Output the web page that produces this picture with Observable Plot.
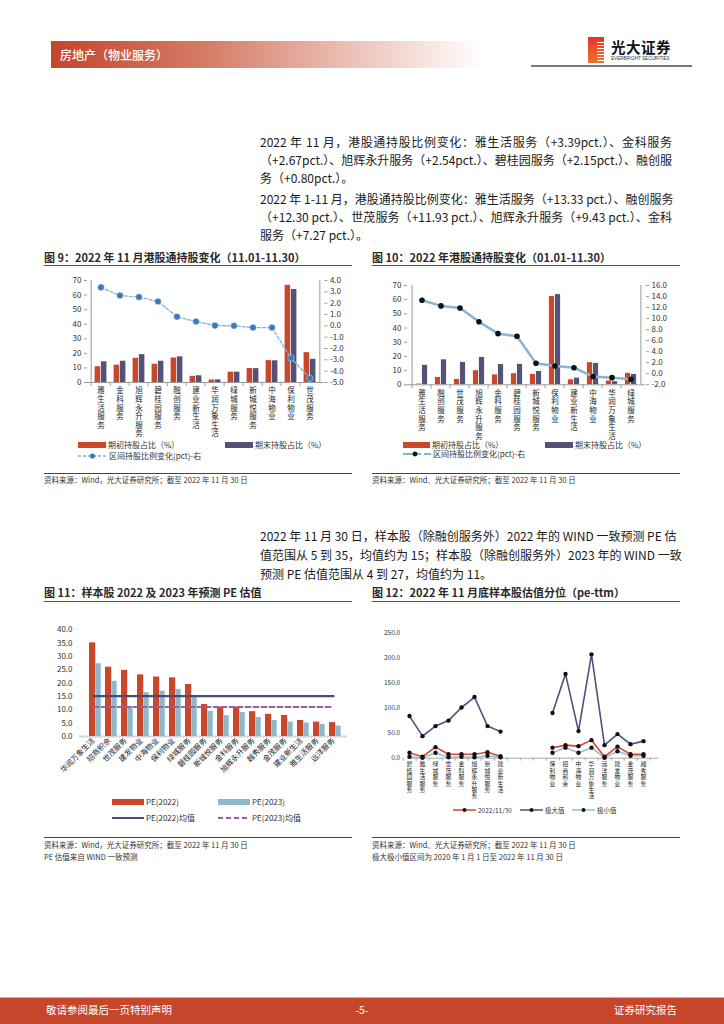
<!DOCTYPE html>
<html><head><meta charset="utf-8">
<script src="https://cdn.jsdelivr.net/npm/d3@7"></script>
<script src="https://cdn.jsdelivr.net/npm/@observablehq/plot@0.6"></script>
<style>
body{margin:0;background:#fff;}
#page{position:relative;width:724px;height:1024px;overflow:hidden;font-family:"Noto Sans CJK SC","Noto Sans",sans-serif;color:#222;background:#fff;}
.para{position:absolute;left:260px;width:412px;font-size:12px;line-height:16px;white-space:nowrap;text-align:justify;text-align-last:justify;font-family:"Liberation Sans Narrow","Noto Sans CJK SC",sans-serif;color:#1a1a1a;}
.para.last{text-align-last:left;}
.ctitle{position:absolute;font-size:11px;font-weight:700;line-height:14px;white-space:nowrap;color:#2a2a2a;}
.hline{position:absolute;height:0;border-top:1.5px solid #555;}
.sline{position:absolute;height:0;border-top:1px solid #444;}
.src{position:absolute;font-size:7.5px;line-height:10px;white-space:nowrap;color:#333;}
.leg{position:absolute;display:flex;align-items:center;font-size:8px;line-height:10px;white-space:nowrap;color:#333;}
.leg svg{margin-right:2px;}
.chart{position:absolute;}
.vlab g[aria-label="x-axis tick label"] text{writing-mode:vertical-rl;letter-spacing:1.1px;}
.vlab12 g[aria-label="x-axis tick label"] text{writing-mode:vertical-rl;letter-spacing:0.6px;}
</style></head>
<body><div id="page">
<!-- header -->
<div style="position:absolute;left:51px;top:41px;width:432px;height:27px;background:linear-gradient(90deg,#c5452b 0%,#d47a65 35%,#ecc2b8 70%,#ffffff 100%);"></div>
<div style="position:absolute;left:60px;top:41px;height:27px;line-height:27px;font-size:12px;color:#fff;font-weight:500;">房地产（物业服务）</div>
<div style="position:absolute;left:588px;top:37px;width:16px;height:26px;background:linear-gradient(180deg,#e8322b,#f0722c);"></div>
<div style="position:absolute;left:597px;top:40px;width:7px;height:22px;background:repeating-linear-gradient(180deg,transparent 0 2px,#fff 2px 3px);"></div>
<div style="position:absolute;left:611px;top:38px;font-size:14.5px;font-weight:700;line-height:18px;color:#111;letter-spacing:0.5px;">光大证券</div>
<div style="position:absolute;left:611px;top:56px;font-size:4.6px;line-height:6px;color:#333;font-family:'Liberation Sans',sans-serif;">EVERBRIGHT SECURITIES</div>
<div style="position:absolute;left:531px;top:65px;width:161px;height:2px;background:#7a7a7a;"></div>

<!-- paragraphs -->
<div class="para" style="top:134px;">2022 年 11 月，港股通持股比例变化：雅生活服务（+3.39pct.）、金科服务</div>
<div class="para" style="top:152px;">（+2.67pct.）、旭辉永升服务（+2.54pct.）、碧桂园服务（+2.15pct.）、融创服</div>
<div class="para last" style="top:170px;">务（+0.80pct.）。</div>
<div class="para" style="top:191px;">2022 年 1-11 月，港股通持股比例变化：雅生活服务（+13.33 pct.）、融创服务</div>
<div class="para" style="top:209px;">（+12.30 pct.）、世茂服务（+11.93 pct.）、旭辉永升服务（+9.43 pct.）、金科</div>
<div class="para last" style="top:227px;">服务（+7.27 pct.）。</div>

<div class="para" style="top:528px;">2022 年 11 月 30 日，样本股（除融创服务外）2022 年的 WIND 一致预测 PE 估</div>
<div class="para" style="top:547px;">值范围从 5 到 35，均值约为 15；样本股（除融创服务外）2023 年的 WIND 一致</div>
<div class="para last" style="top:566px;">预测 PE 估值范围从 4 到 27，均值约为 11。</div>

<!-- chart 9 -->
<div class="ctitle" style="left:44px;top:250px;">图 9：2022 年 11 月港股通持股变化（11.01-11.30）</div>
<div class="hline" style="left:44px;top:265px;width:308px;"></div>
<div class="chart" id="c9" style="left:40px;top:270px;"></div>
<div class="leg" style="left:78px;top:440px;"><svg width="28" height="8"><rect x="0" y="1" width="28" height="6" fill="#c9472b"/></svg>期初持股占比（%）</div>
<div class="leg" style="left:225px;top:440px;"><svg width="28" height="8"><rect x="0" y="1" width="28" height="6" fill="#535279"/></svg>期末持股占比（%）</div>
<div class="leg" style="left:78px;top:451px;"><svg width="29" height="8"><line x1="0" y1="4" x2="29" y2="4" stroke="#7fb2d3" stroke-width="1.3" stroke-dasharray="3,2"/><circle cx="14.5" cy="4" r="2.6" fill="#3d7ab8"/></svg>区间持股比例变化(pct)-右</div>
<div class="sline" style="left:44px;top:473px;width:308px;"></div>
<div class="src" style="left:44px;top:475px;">资料来源：Wind，光大证券研究所；截至 2022 年 11 月 30 日</div>

<!-- chart 10 -->
<div class="ctitle" style="left:372px;top:250px;">图 10：2022 年港股通持股变化（01.01-11.30）</div>
<div class="hline" style="left:372px;top:265px;width:308px;"></div>
<div class="chart" id="c10" style="left:365px;top:275px;"></div>
<div class="leg" style="left:403px;top:440px;"><svg width="27" height="8"><rect x="0" y="1" width="27" height="6" fill="#c9472b"/></svg>期初持股占比（%）</div>
<div class="leg" style="left:545px;top:440px;"><svg width="28" height="8"><rect x="0" y="1" width="28" height="6" fill="#535279"/></svg>期末持股占比（%）</div>
<div class="leg" style="left:403px;top:449px;"><svg width="28" height="8"><line x1="0" y1="4" x2="18" y2="4" stroke="#86b5d0" stroke-width="2"/><line x1="21" y1="4" x2="28" y2="4" stroke="#86b5d0" stroke-width="2"/><circle cx="12" cy="4" r="2.4" fill="#111"/></svg>区间持股比例变化(pct)-右</div>
<div class="sline" style="left:372px;top:473px;width:308px;"></div>
<div class="src" style="left:372px;top:475px;">资料来源：Wind、光大证券研究所；截至 2022 年 11 月 30 日</div>

<!-- chart 11 -->
<div class="ctitle" style="left:44px;top:585px;">图 11：样本股 2022 及 2023 年预测 PE 估值</div>
<div class="hline" style="left:44px;top:601px;width:308px;"></div>
<div class="chart" id="c11" style="left:40px;top:620px;"></div>
<div class="leg" style="left:112px;top:797px;"><svg width="32" height="8"><rect x="0" y="1" width="32" height="6" fill="#c9472b"/></svg>PE(2022)</div>
<div class="leg" style="left:218px;top:797px;"><svg width="32" height="8"><rect x="0" y="1" width="32" height="6" fill="#8db8cc"/></svg>PE(2023)</div>
<div class="leg" style="left:112px;top:813px;"><svg width="32" height="8"><line x1="0" y1="4" x2="32" y2="4" stroke="#4b4a7a" stroke-width="2"/></svg>PE(2022)均值</div>
<div class="leg" style="left:218px;top:813px;"><svg width="32" height="8"><line x1="0" y1="4" x2="32" y2="4" stroke="#9a62a0" stroke-width="2" stroke-dasharray="5,3"/></svg>PE(2023)均值</div>
<div class="sline" style="left:44px;top:837px;width:308px;"></div>
<div class="src" style="left:44px;top:840px;">资料来源：Wind，光大证券研究所；截至 2022 年 11 月 30 日</div>
<div class="src" style="left:44px;top:852px;">PE 估值来自 WIND 一致预测</div>

<!-- chart 12 -->
<div class="ctitle" style="left:372px;top:585px;">图 12：2022 年 11 月底样本股估值分位（pe-ttm）</div>
<div class="hline" style="left:372px;top:601px;width:308px;"></div>
<div class="chart" id="c12" style="left:365px;top:625px;"></div>
<div class="leg" style="left:453px;top:805px;font-size:6.5px;"><svg width="23" height="8"><line x1="0" y1="4" x2="23" y2="4" stroke="#d9472b" stroke-width="1.5"/><circle cx="11.5" cy="4" r="2" fill="#111"/></svg>2022/11/30</div>
<div class="leg" style="left:520px;top:805px;font-size:6.5px;"><svg width="23" height="8"><line x1="0" y1="4" x2="23" y2="4" stroke="#514f7e" stroke-width="1.5"/><circle cx="11.5" cy="4" r="2" fill="#111"/></svg>极大值</div>
<div class="leg" style="left:572px;top:805px;font-size:6.5px;"><svg width="23" height="8"><line x1="0" y1="4" x2="23" y2="4" stroke="#8fc3da" stroke-width="1.5"/><circle cx="11.5" cy="4" r="2" fill="#111"/></svg>极小值</div>
<div class="sline" style="left:372px;top:837px;width:308px;"></div>
<div class="src" style="left:372px;top:840px;">资料来源：Wind、光大证券研究所；截至 2022 年 11 月 30 日</div>
<div class="src" style="left:372px;top:852px;">极大极小值区间为 2020 年 1 月 1 日至 2022 年 11 月 30 日</div>

<!-- footer -->
<div style="position:absolute;left:0;top:997px;width:724px;height:26px;background:#c5462a;border-top:1px solid #e6a597;"></div>
<div style="position:absolute;left:46px;top:1003px;font-size:10.5px;line-height:14px;color:#fff;">敬请参阅最后一页特别声明</div>
<div style="position:absolute;left:352px;top:1003px;width:20px;text-align:center;font-size:10.5px;line-height:14px;color:#fff;">-5-</div>
<div style="position:absolute;right:47px;top:1003px;font-size:10.5px;line-height:14px;color:#fff;">证券研究报告</div>
</div>
<script>
// ---------- data ----------
// Chart 9: 2022-11 holdings change
const c9Cats = ["雅生活服务","金科服务","旭辉永升服务","碧桂园服务","融创服务","建业新生活","华润万象生活","绿城服务","新城悦服务","中海物业","保利物业","世茂服务"];
const c9Start = [10.8, 11.9, 16.6, 12.5, 16.8, 4.2, 1.7, 7.1, 9.6, 15.0, 66.7, 20.5];
const c9End   = [14.2, 14.6, 19.1, 14.6, 17.6, 4.6, 1.8, 7.1, 9.5, 14.9, 63.8, 15.9];
const c9Chg   = [3.39, 2.67, 2.54, 2.15, 0.80, 0.38, 0.02, 0.0, -0.15, -0.15, -2.85, -4.63];
// Chart 10: 2022 YTD holdings change
const c10Cats = ["雅生活服务","融创服务","世茂服务","旭辉永升服务","金科服务","碧桂园服务","新城悦服务","保利物业","建业新生活","中海物业","华润万象生活","绿城服务"];
const c10Start = [0.5, 5.2, 3.8, 9.9, 7.0, 7.8, 7.3, 62.2, 3.5, 15.6, 2.7, 8.1];
const c10End   = [13.7, 17.6, 15.8, 19.3, 14.3, 14.4, 9.4, 63.6, 4.7, 15.1, 2.2, 7.3];
const c10Chg   = [13.33, 12.30, 11.93, 9.43, 7.27, 6.8, 1.9, 1.4, 1.1, -0.5, -0.7, -1.0];
// Chart 11: PE 2022/2023
const c11Cats = ["华润万象生活","招商积余","世茂服务","建发物业","中海物业","保利物业","绿城服务","碧桂园服务","新城悦服务","金科服务","旭辉永升服务","越秀服务","金茂服务","建业新生活","雅生活服务","远洋服务"];
const c11PE22 = [35.1, 26.0, 24.8, 23.1, 22.3, 22.0, 19.5, 12.0, 11.0, 11.0, 9.3, 8.3, 7.9, 6.0, 5.4, 5.2];
const c11PE23 = [27.3, 20.7, 11.2, 16.4, 17.0, 17.6, 15.3, 9.4, 7.8, 9.0, 7.1, 6.0, 5.4, 5.1, 4.5, 3.9];
const c11Mean22 = 15.1;
const c11Mean23 = 11.1;
// Chart 12: PE-ttm percentile
const c12Left  = ["碧桂园服务","雅生活服务","绿城服务","世茂服务","金科服务","旭辉永升服务","新城悦服务","建业新生活"];
const c12Right = ["保利物业","招商积余","中海物业","华润万象生活","远洋服务","建发物业","金茂服务","越秀服务"];
const c12Gaps  = ["gap1","gap2","gap3","gap4"];
const c12CurL = [11, 3, 22, 8, 8, 8, 12, 4];
const c12MaxL = [84, 44, 64, 75, 101, 122, 64, 53];
const c12MinL = [3, 1, 11, 2, 3, 2, 5, 2];
const c12CurR = [21, 26, 24, 36, 3, 23, 8, 8];
const c12MaxR = [90, 168, 54, 207, 26, 48, 28, 34];
const c12MinR = [11, 21, 11, 21, 1, 14, 5, 5];

// ---------- helpers ----------
const FONT = '"Noto Sans CJK SC","Noto Sans",sans-serif';
const RED = "#c9472b", NAVY = "#535279";
const r1 = v => (Math.round(v * 10) / 10).toFixed(1);

function dualChart(o) {
  const span = o.rDom[1] - o.rDom[0];
  const toL = v => (v - o.rDom[0]) / span * 70;
  const fromL = v => v / 70 * span + o.rDom[0];
  const rows = o.cats.map((c, i) => ({c, s: o.start[i], e: o.end[i], g: toL(o.chg[i])}));
  const bw = (o.width - o.ml - o.mr) / o.cats.length;
  const last = o.cats[o.cats.length - 1];
  return Plot.plot({
    className: "vlab",
    width: o.width, height: o.height,
    marginTop: o.mt, marginBottom: o.mb, marginLeft: o.ml, marginRight: o.mr,
    style: {fontFamily: FONT, fontSize: "8px", color: "#333", background: "transparent", overflow: "visible"},
    x: {domain: o.cats, padding: 0, label: null},
    y: {domain: [0, 70], label: null},
    marks: [
      Plot.barY(rows, {x: "c", y: "s", fill: RED, insetLeft: o.inset, insetRight: bw / 2}),
      Plot.barY(rows, {x: "c", y: "e", fill: NAVY, insetLeft: bw / 2, insetRight: o.inset}),
      Plot.ruleY([0], {stroke: "#9a9a9a"}),
      Plot.ruleX([o.cats[0]], {dx: -bw / 2, stroke: "#9a9a9a"}),
      Plot.ruleX([last], {dx: bw / 2, stroke: "#9a9a9a"}),
      Plot.axisY({anchor: "left", ticks: d3.range(0, 71, 10), tickSize: 3, tickPadding: 3, fontSize: 8, stroke: "#9a9a9a", fill: "#333", label: null}),
      Plot.axisY({anchor: "right", ticks: d3.range(o.rDom[0], o.rDom[1] + 1e-9, o.rStep).map(toL), tickFormat: d => r1(fromL(d)), tickSize: 3, tickPadding: 3, fontSize: 8, stroke: "#9a9a9a", fill: "#333", label: null}),
      Plot.axisX({tickSize: 4, tickFormat: () => "", dx: -bw / 2, stroke: "#9a9a9a", label: null}),
      Plot.axisX({tickSize: 0, tickPadding: -1, textAnchor: "start", fontSize: 7.5, fill: "#222", label: null}),
      ...o.lineMarks(rows)
    ]
  });
}

// ---------- chart 9 ----------
document.getElementById("c9").appendChild(dualChart({
  cats: c9Cats, start: c9Start, end: c9End, chg: c9Chg,
  rDom: [-5, 4], rStep: 1,
  width: 310, height: 170, mt: 10, mb: 58, ml: 47, mr: 26.6, inset: 3.6,
  lineMarks: rows => [
    Plot.line(rows, {x: "c", y: "g", stroke: "#7fb2d3", strokeWidth: 1.3, strokeDasharray: "3,2"}),
    Plot.dot(rows, {x: "c", y: "g", r: 3.3, fill: "#3d7ab8", stroke: "#ffffff", strokeWidth: 0.4})
  ]
}));

// ---------- chart 10 ----------
document.getElementById("c10").appendChild(dualChart({
  cats: c10Cats, start: c10Start, end: c10End, chg: c10Chg,
  rDom: [-2, 16], rStep: 2,
  width: 310, height: 170, mt: 10, mb: 60.7, ml: 42, mr: 30, inset: 3.9,
  lineMarks: rows => [
    Plot.line(rows, {x: "c", y: "g", stroke: "#86b5d0", strokeWidth: 2.5}),
    Plot.dot(rows, {x: "c", y: "g", r: 2.8, fill: "#111"})
  ]
}));

// ---------- chart 11 ----------
{
  const rows = c11Cats.map((c, i) => ({c, a: c11PE22[i], b: c11PE23[i]}));
  const bw = (315 - 39 - 8) / c11Cats.length;
  document.getElementById("c11").appendChild(Plot.plot({
    width: 315, height: 170, marginTop: 9.3, marginBottom: 54, marginLeft: 39, marginRight: 8,
    style: {fontFamily: FONT, fontSize: "8px", color: "#333", background: "transparent", overflow: "visible"},
    x: {domain: c11Cats, padding: 0, label: null},
    y: {domain: [0, 40], label: null},
    marks: [
      Plot.ruleY([0], {stroke: "#d5d5d5", strokeWidth: 2}),
      Plot.barY(rows, {x: "c", y: "a", fill: RED, insetLeft: 4, insetRight: bw - 11}),
      Plot.barY(rows, {x: "c", y: "b", fill: "#8db8cc", insetLeft: 10.5, insetRight: 0.3}),
      Plot.lineY(rows, {x: "c", y: () => c11Mean22, stroke: "#4b4a7a", strokeWidth: 2.2}),
      Plot.lineY(rows, {x: "c", y: () => c11Mean23, stroke: "#9a62a0", strokeWidth: 2, strokeDasharray: "5,3"}),
      Plot.axisY({ticks: d3.range(0, 41, 5), tickSize: 0, tickPadding: 7, tickFormat: d => d.toFixed(1), fontSize: 8, fill: "#333", label: null}),
      Plot.axisX({tickSize: 0, tickPadding: 3, tickRotate: -45, fontSize: 7.5, fill: "#222", label: null})
    ]
  }));
}

// ---------- chart 12 ----------
{
  const domain = [...c12Left, c12Gaps[0], c12Gaps[1], c12Gaps[2], ...c12Right, c12Gaps[3]];
  const rows = [
    ...c12Left.map((c, i) => ({c, g: "L", cur: c12CurL[i], max: c12MaxL[i], min: c12MinL[i]})),
    ...c12Right.map((c, i) => ({c, g: "R", cur: c12CurR[i], max: c12MaxR[i], min: c12MinR[i]}))
  ];
  const bw = (310 - 42.7 - 17) / domain.length;
  const ser = (key, color) => [
    Plot.line(rows, {x: "c", y: key, z: "g", stroke: color, strokeWidth: 1.6}),
  ];
  document.getElementById("c12").appendChild(Plot.plot({
    className: "vlab12",
    width: 310, height: 180, marginTop: 7.3, marginBottom: 47.3, marginLeft: 42.7, marginRight: 17,
    style: {fontFamily: FONT, fontSize: "6.5px", color: "#333", background: "transparent", overflow: "visible"},
    x: {domain, padding: 0, label: null},
    y: {domain: [0, 250], label: null},
    marks: [
      Plot.ruleY([0], {stroke: "#a8a8a8"}),
      Plot.axisX({tickSize: 3, tickFormat: () => "", dx: -bw / 2, stroke: "#a8a8a8", label: null}),
      ...ser("max", "#514f7e"),
      ...ser("min", "#8fc3da"),
      ...ser("cur", "#d9472b"),
      Plot.dot(rows, {x: "c", y: "max", r: 2.2, fill: "#111"}),
      Plot.dot(rows, {x: "c", y: "min", r: 2.2, fill: "#111"}),
      Plot.dot(rows, {x: "c", y: "cur", r: 2.2, fill: "#111"}),
      Plot.axisY({ticks: d3.range(0, 251, 50), tickSize: 0, tickPadding: 8, tickFormat: d => d.toFixed(1), fontSize: 6.5, fill: "#333", label: null}),
      Plot.axisX({tickSize: 0, tickPadding: -1, textAnchor: "start", tickFormat: d => d.startsWith("gap") ? "" : d, fontSize: 5.8, fill: "#222", label: null})
    ]
  }));
}
</script>
</body></html>
